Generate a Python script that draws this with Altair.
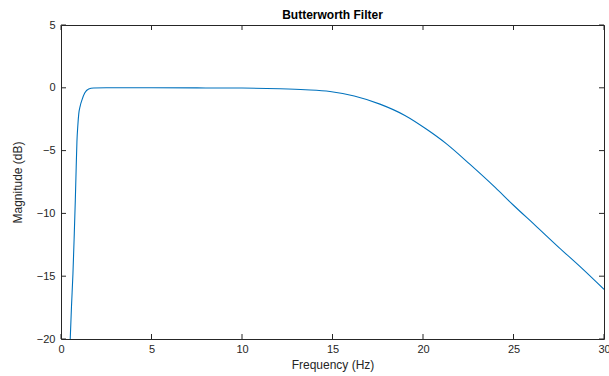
import altair as alt
import pandas as pd

# Magnitude response of the band-pass Butterworth filter
freq_hz = [0.51, 0.58, 0.66, 0.73, 0.79, 0.84, 0.88, 0.93, 0.98, 1.06, 1.16, 1.31,
           1.53, 1.8, 2.5, 5.0, 8.0, 10.0, 12.1, 13.5, 14.86, 16.2, 17.62, 19.0,
           20.2, 21.3, 22.6, 24.0, 25.0, 26.2, 27.5, 28.8, 30.0]
magnitude_db = [-20.0, -17.4, -14.8, -11.8, -9.0, -6.3, -4.3, -3.0, -2.1, -1.45, -0.96, -0.42,
                -0.1, -0.02, 0.0, 0.0, -0.01, -0.02, -0.08, -0.16, -0.3, -0.65, -1.3, -2.2,
                -3.3, -4.46, -6.1, -7.95, -9.35, -10.95, -12.7, -14.4, -16.05]

x_ticks = [0, 5, 10, 15, 20, 25, 30]
y_ticks = [-20, -15, -10, -5, 0, 5]

W, H = 543, 314
FONT = "Liberation Sans"
AX = "#262626"

curve = pd.DataFrame({"f": freq_hz, "db": magnitude_db})
xt = pd.DataFrame({"f": x_ticks})
yt = pd.DataFrame({"db": y_ticks})

xs = alt.Scale(domain=[0, 30], nice=False, zero=False)
ys = alt.Scale(domain=[-20, 5], nice=False, zero=False)

x_axis = alt.Axis(
    values=x_ticks, title="Frequency (Hz)", domain=False, ticks=False, grid=False,
    labelFlush=False, labelOverlap=False,
    labelPadding=4, titlePadding=5, labelFontSize=11, titleFontSize=12,
    labelColor=AX, titleColor=AX, labelFont=FONT, titleFont=FONT,
    titleFontWeight="normal")
y_axis = alt.Axis(
    values=y_ticks, title="Magnitude (dB)", domain=False, ticks=False, grid=False,
    labelFlush=False, labelOverlap=False,
    labelPadding=6, titlePadding=12, labelFontSize=11, titleFontSize=12,
    labelColor=AX, titleColor=AX, labelFont=FONT, titleFont=FONT,
    titleFontWeight="normal")

X = alt.X("f:Q", scale=xs, axis=x_axis)
Y = alt.Y("db:Q", scale=ys, axis=y_axis)

line = alt.Chart(curve).mark_line(
    color="#0072BD", strokeWidth=1.1, interpolate="monotone", clip=True
).encode(x=X, y=Y)

# Inward-pointing tick marks on all four sides of the box
tick_style = dict(color=AX, strokeWidth=1)
bottom = alt.Chart(xt).mark_rule(**tick_style).encode(
    x=X, y=alt.value(H), y2=alt.value(H - 5))
top = alt.Chart(xt).mark_rule(**tick_style).encode(
    x=X, y=alt.value(0), y2=alt.value(5))
left = alt.Chart(yt).mark_rule(**tick_style).encode(
    y=Y, x=alt.value(0), x2=alt.value(5))
right = alt.Chart(yt).mark_rule(**tick_style).encode(
    y=Y, x=alt.value(W), x2=alt.value(W - 5))

chart = alt.layer(line, bottom, top, left, right).properties(
    width=W,
    height=H,
    background="white",
    title=alt.TitleParams("Butterworth Filter", fontSize=12, fontWeight="bold",
                          font=FONT, color="black", offset=-3, frame="group"),
    autosize=alt.AutoSizeParams(type="none"),
    padding={"left": 61, "top": 25, "right": 5, "bottom": 37},
).configure_view(stroke=AX, strokeWidth=1)

chart.save("out.html", embed_options={"renderer": "svg", "actions": False})
